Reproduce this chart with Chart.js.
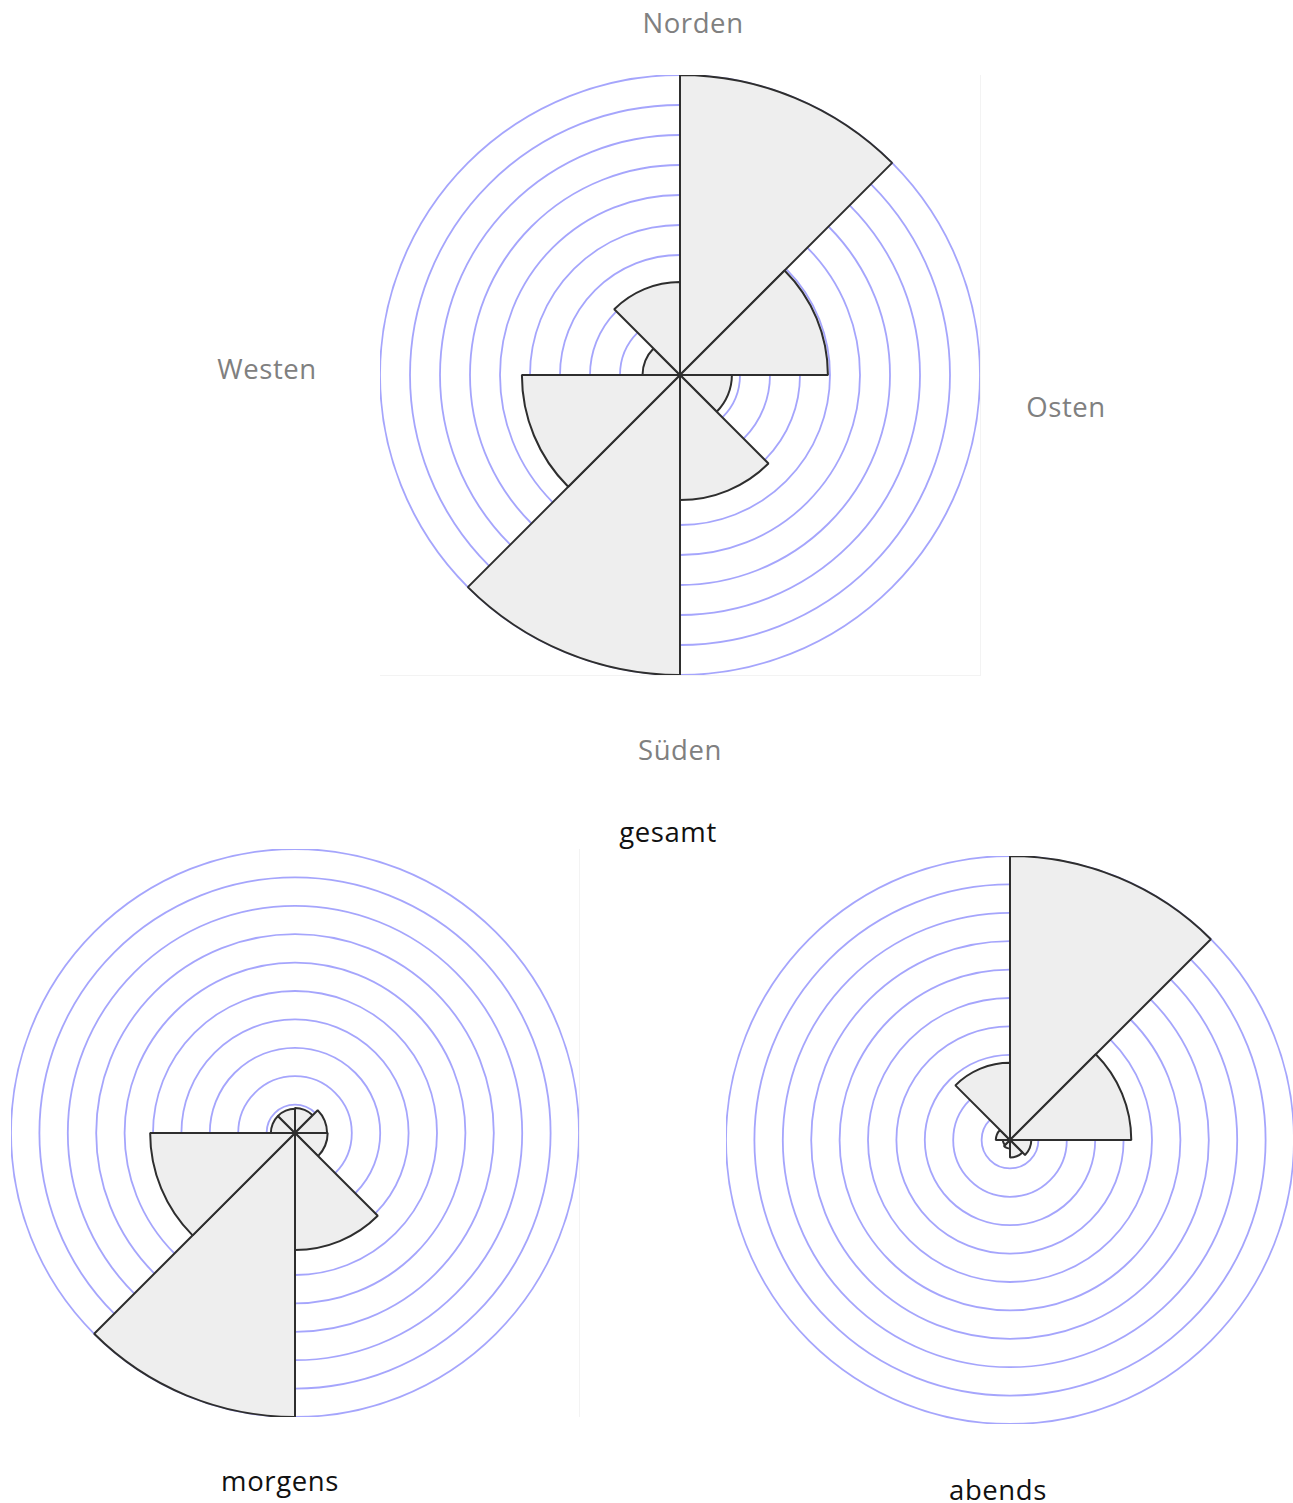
<!DOCTYPE html>
<html>
<head>
<meta charset="utf-8">
<script src="https://cdn.jsdelivr.net/npm/chart.js@4"></script>
<style>
  body { margin: 0; background: #fff; overflow: hidden; font-family: "Open Sans", sans-serif; }
  .box { position: absolute; }
  .lbl { position: absolute; transform: translate(-50%, -50%); font-size: 27.5px; white-space: nowrap; letter-spacing: 0.6px; }
  .dir { color: #808080; }
  .title { color: #111; }
</style>
</head>
<body>
<div class="box" id="boxGesamt" style="left:380px;top:75px;width:600px;height:600px;border-right:1px solid #f3f3f3;border-bottom:1px solid #f3f3f3;">
  <canvas id="gesamtChart"></canvas>
</div>
<div class="box" id="boxMorgens" style="left:11px;top:849px;width:568px;height:568px;border-right:1px solid #f3f3f3;">
  <canvas id="morgensChart"></canvas>
</div>
<div class="box" id="boxAbends" style="left:726px;top:856px;width:568px;height:568px;">
  <canvas id="abendsChart"></canvas>
</div>

<div class="lbl dir" style="left:693px;top:22px;">Norden</div>
<div class="lbl dir" style="left:1066px;top:406px;">Osten</div>
<div class="lbl dir" style="left:680px;top:749px;">Süden</div>
<div class="lbl dir" style="left:267px;top:368px;">Westen</div>
<div class="lbl title" style="left:668px;top:831px;">gesamt</div>
<div class="lbl title" style="left:280px;top:1480px;">morgens</div>
<div class="lbl title" style="left:998px;top:1489px;">abends</div>

<script>
// Windrichtungen: N, NO, O, SO, S, SW, W, NW (im Uhrzeigersinn ab Norden)
const directions = ["N", "NO", "O", "SO", "S", "SW", "W", "NW"];

// Werte in Ringeinheiten (10 Ringe = Maximum)
const gesamtValues = [10, 4.93, 1.73, 4.17, 10, 5.27, 1.25, 3.1];
const morgensValues = [0.88, 1.13, 1.15, 4.12, 10, 5.1, 0.85, 0.85];
const abendsValues = [10, 4.27, 0.75, 0.62, 0.3, 0.25, 0.5, 2.72];

const ringMax = 10;

function makeRose(canvasId, boxId, values) {
  const box = document.getElementById(boxId);
  const canvas = document.getElementById(canvasId);
  canvas.width = box.clientWidth;
  canvas.height = box.clientHeight;

  return new Chart(canvas.getContext("2d"), {
    type: "polarArea",
    data: {
      labels: directions,
      datasets: [
        {
          data: values,
          backgroundColor: "#eeeeee",
          borderColor: "#2e2e2e",
          borderWidth: 2,
        },
      ],
    },
    options: {
      responsive: false,
      animation: false,
      layout: { padding: 0 },
      plugins: {
        legend: { display: false },
        tooltip: { enabled: false },
      },
      scales: {
        r: {
          min: 0,
          max: ringMax,
          startAngle: 0,
          ticks: { display: false, stepSize: 1 },
          grid: {
            circular: true,
            color: "rgba(110, 110, 250, 0.62)",
            lineWidth: 1.8,
          },
          angleLines: { display: false },
          pointLabels: { display: false },
        },
      },
    },
  });
}

makeRose("gesamtChart", "boxGesamt", gesamtValues);
makeRose("morgensChart", "boxMorgens", morgensValues);
makeRose("abendsChart", "boxAbends", abendsValues);
</script>
</body>
</html>
